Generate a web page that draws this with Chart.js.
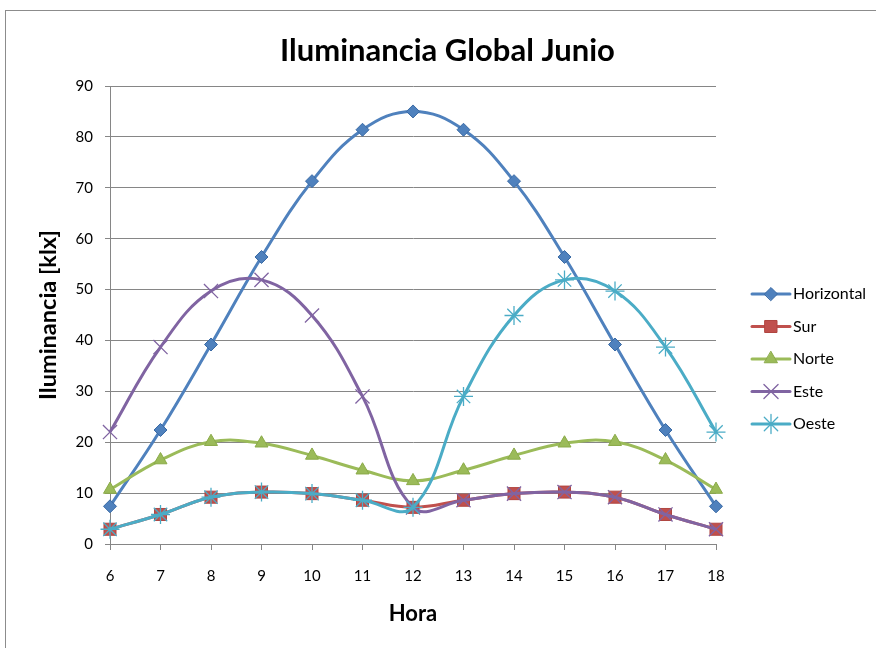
<!DOCTYPE html>
<html>
<head>
<meta charset="utf-8">
<script src="https://cdn.jsdelivr.net/npm/chart.js@4/dist/chart.umd.min.js"></script>
<style>
  html, body { margin: 0; padding: 0; background: #fff; }
  canvas { display: block; }
</style>
</head>
<body>
<canvas id="c" width="876" height="648"></canvas>
<script>
// Hours of the day (x categories)
const horas = ['6', '7', '8', '9', '10', '11', '12', '13', '14', '15', '16', '17', '18'];

// Global illuminance in June, klx, per façade orientation
const horizontal = [7.4, 22.4, 39.2, 56.4, 71.3, 81.4, 85.0, 81.4, 71.3, 56.4, 39.2, 22.4, 7.4];
const sur        = [2.9, 5.8, 9.2, 10.2, 9.9, 8.6, 7.2, 8.6, 9.9, 10.2, 9.2, 5.8, 2.9];
const norte      = [10.7, 16.5, 20.1, 19.8, 17.4, 14.5, 12.4, 14.5, 17.4, 19.8, 20.1, 16.5, 10.7];
const este       = [22.0, 38.7, 49.7, 51.9, 44.9, 29.0, 7.2, 8.6, 9.9, 10.2, 9.2, 5.8, 2.9];
const oeste      = [2.9, 5.8, 9.2, 10.2, 9.9, 8.6, 7.2, 29.0, 44.9, 51.9, 49.7, 38.7, 22.0];

const TITLE = 'Iluminancia Global Junio';
const FONT = 'Lato, "Open Sans", sans-serif';
const GRID = '#868686';

function serie(label, data, color, edge, style, radius, order, bw) {
  return {
    label, data, order,
    borderColor: color,
    borderWidth: 3,
    backgroundColor: color,
    pointStyle: style,
    pointRadius: radius,
    pointHoverRadius: radius,
    pointBackgroundColor: color,
    pointBorderColor: edge,
    pointBorderWidth: bw,
    tension: 0.4,
    fill: false
  };
}

const datasets = [
  serie('Horizontal', horizontal, '#4F81BD', '#3A6AA5', 'rectRot', 6.5, 5, 1),
  serie('Sur', sur, '#C0504D', '#B04540', 'rect', 8.5, 4, 1),
  serie('Norte', norte, '#9BBB59', '#8AAA48', 'triangle', 7.5, 3, 1),
  serie('Este', este, '#8064A2', '#8064A2', 'crossRot', 10, 2, 1.3),
  serie('Oeste', oeste, '#4BACC6', '#4BACC6', 'star', 9.5, 1, 1.3)
];

// White page, grey outline of the chart object and the heading
const framePlugin = {
  id: 'frame',
  beforeDraw(chart) {
    const ctx = chart.ctx;
    ctx.save();
    ctx.fillStyle = '#fff';
    ctx.fillRect(0, 0, chart.width, chart.height);
    ctx.strokeStyle = '#8c8c8c';
    ctx.lineWidth = 1;
    ctx.strokeRect(5.5, 10.5, 900, 700);
    ctx.fillStyle = '#000';
    ctx.font = 'bold 31px ' + FONT;
    ctx.textAlign = 'center';
    ctx.textBaseline = 'alphabetic';
    ctx.fillText(TITLE, 447.5, 61);
    ctx.restore();
  }
};

// Legend on the right: line segment with the series marker in the middle
const sideLegend = {
  id: 'sideLegend',
  afterDraw(chart) {
    const ctx = chart.ctx;
    const x0 = 752, x1 = 790, top = 294, step = 32.5;
    ctx.save();
    chart.data.datasets.forEach((ds, i) => {
      const y = top + i * step;
      ctx.strokeStyle = ds.borderColor;
      ctx.lineWidth = 3;
      ctx.lineCap = 'round';
      ctx.beginPath();
      ctx.moveTo(x0, y);
      ctx.lineTo(x1, y);
      ctx.stroke();
      ctx.fillStyle = ds.pointBackgroundColor;
      ctx.strokeStyle = ds.pointBorderColor;
      ctx.lineWidth = ds.pointBorderWidth;
      Chart.helpers.drawPoint(ctx, { pointStyle: ds.pointStyle, radius: ds.pointRadius, rotation: 0, borderWidth: ds.pointBorderWidth }, (x0 + x1) / 2, y);
      ctx.fillStyle = '#000';
      ctx.font = '16px ' + FONT;
      ctx.textAlign = 'left';
      ctx.textBaseline = 'middle';
      ctx.fillText(ds.label, x1 + 3, y);
    });
    ctx.restore();
  }
};

new Chart(document.getElementById('c'), {
  type: 'line',
  data: { labels: horas, datasets },
  options: {
    responsive: false,
    animation: false,
    devicePixelRatio: 1,
    layout: { padding: { left: 5, right: 160, top: 86, bottom: 0 } },
    plugins: {
      legend: { display: false },
      tooltip: { enabled: false },
      title: { display: false }
    },
    scales: {
      x: {
        type: 'category',
        offset: false,
        grid: { drawOnChartArea: false, drawTicks: true, tickLength: 6, color: GRID },
        border: { display: true, color: GRID, width: 1 },
        ticks: { color: '#000', font: { family: FONT, size: 15 }, padding: 17, maxRotation: 0, autoSkip: false },
        title: {
          display: true, text: 'Hora', color: '#000',
          font: { family: FONT, size: 22, weight: 'bold' },
          padding: { top: 0, bottom: 21 }
        },
        afterFit(s) { s.height = 104; }
      },
      y: {
        min: 0, max: 90,
        grid: { color: GRID, lineWidth: 1, tickLength: 5, drawTicks: true },
        border: { display: true, color: GRID, width: 1 },
        ticks: { stepSize: 10, color: '#000', font: { family: FONT, size: 15 }, padding: 12 },
        title: {
          display: true, text: 'Iluminancia [klx]', color: '#000',
          font: { family: FONT, size: 23.5, weight: 'bold' },
          padding: { top: 29, bottom: 0 }
        },
        afterFit(s) { s.width = 105; }
      }
    }
  },
  plugins: [framePlugin, sideLegend]
});
</script>
</body>
</html>
